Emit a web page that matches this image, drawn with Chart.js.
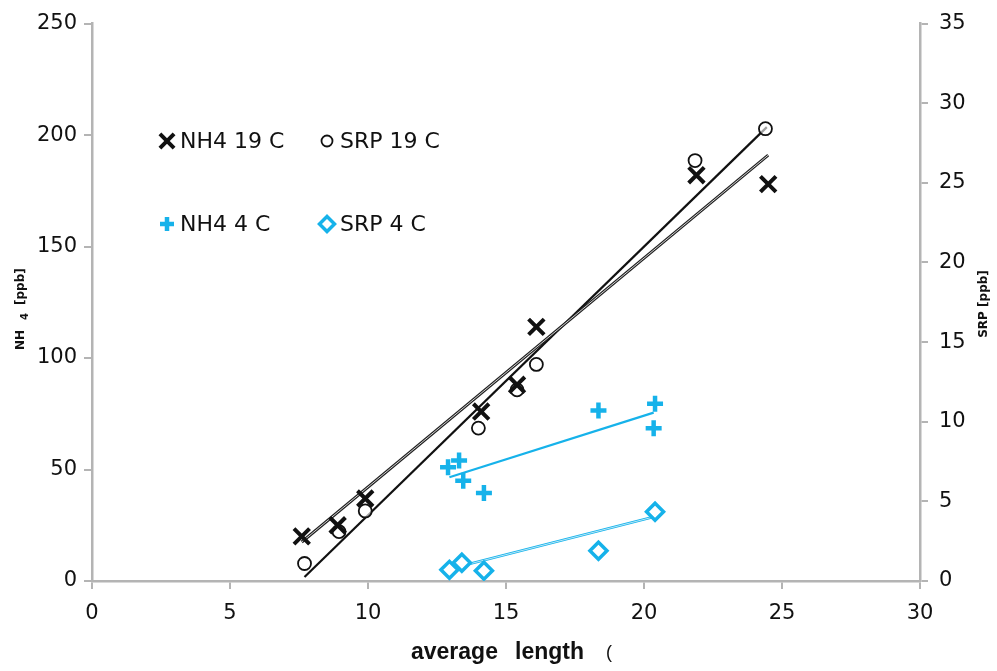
<!DOCTYPE html>
<html>
<head>
<meta charset="utf-8">
<script src="https://cdn.jsdelivr.net/npm/chart.js@4/dist/chart.umd.min.js"></script>
<style>
  html, body { margin: 0; padding: 0; background: #fff; }
  #wrap { width: 997px; height: 671px; }
</style>
</head>
<body>
<div id="wrap"><canvas id="chart"></canvas></div>
<script>
// Series
const nh4WarmX = [7.6, 8.9, 9.9, 14.1, 15.4, 16.1, 21.9, 24.5];
const nh4WarmY = [20, 25, 37, 76, 88, 114, 182, 178];
const srpWarmX = [7.7, 8.95, 9.9, 14.0, 15.4, 16.1, 21.85, 24.4];
const srpWarmY = [1.1, 3.1, 4.4, 9.6, 12.0, 13.6, 26.4, 28.4];
const nh4ColdX = [12.9, 13.3, 13.45, 14.2, 18.35, 20.4, 20.35];
const nh4ColdY = [51, 54, 45, 39.5, 76.5, 79.5, 68.5];
const srpColdX = [12.95, 13.4, 14.2, 18.35, 20.4];
const srpColdY = [0.7, 1.15, 0.65, 1.9, 4.35];

// Trend line end points
const nh4WarmTrendX = [7.6, 24.5];
const nh4WarmTrendY = [17.5, 191];
const srpWarmTrendX = [7.7, 24.45];
const srpWarmTrendY = [0.25, 28.5];
const nh4ColdTrendX = [12.95, 20.35];
const nh4ColdTrendY = [46.5, 75.5];
const srpColdTrendX = [12.95, 20.3];
const srpColdTrendY = [0.75, 4.0];

// Axis ticks
const xTicks = [0, 5, 10, 15, 20, 25, 30];
const leftTicks = [0, 50, 100, 150, 200, 250];
const rightTicks = [0, 5, 10, 15, 20, 25, 30, 35];

const CYAN = "#16b2ea";
const AXIS = "#b4b4b4";

function pts(xs, ys) {
  return xs.map((x, i) => ({ x: x, y: ys[i] }));
}

// Legend drawn inside the plot as a 2x2 block
const legendSpots = [[167, 141], [327, 141], [167, 224], [327, 224]];

const overlay = {
  id: "overlay",
  afterDraw(chart) {
    const ctx = chart.ctx;
    ctx.save();

    // legend
    chart.data.datasets.filter(d => d.legend).forEach((d, i) => {
      const [lx, ly] = legendSpots[i];
      ctx.strokeStyle = d.borderColor;
      ctx.fillStyle = d.backgroundColor;
      ctx.lineWidth = d.borderWidth;
      Chart.helpers.drawPoint(ctx, {
        pointStyle: d.pointStyle, radius: d.pointRadius - 1,
        borderWidth: d.borderWidth, rotation: 0
      }, lx, ly);
      ctx.fillStyle = "#111";
      ctx.font = "22px 'DejaVu Sans'";
      ctx.textBaseline = "middle";
      ctx.textAlign = "left";
      ctx.fillText(d.label, lx + 13, ly + 1);
    });

    // x title
    ctx.fillStyle = "#111";
    ctx.font = "bold 23px 'Liberation Sans'";
    ctx.textAlign = "left";
    ctx.textBaseline = "middle";
    ctx.fillText("average", 411, 653);
    ctx.fillText("length", 515, 653);
    ctx.font = "18px 'Liberation Sans'";
    ctx.fillText("(", 606, 653);

    // left y title
    ctx.save();
    ctx.translate(24, 350);
    ctx.rotate(-Math.PI / 2);
    ctx.font = "bold 12px 'DejaVu Sans'";
    ctx.textAlign = "left";
    ctx.textBaseline = "alphabetic";
    ctx.fillText("NH", 0, 0);
    ctx.font = "bold 10px 'DejaVu Sans'";
    ctx.fillText("4", 30, 4);
    ctx.font = "bold 12px 'DejaVu Sans'";
    ctx.fillText("[ppb]", 45, 0);
    ctx.restore();

    // right y title
    ctx.save();
    ctx.translate(987, 304);
    ctx.rotate(-Math.PI / 2);
    ctx.font = "bold 12px 'DejaVu Sans'";
    ctx.textAlign = "center";
    ctx.textBaseline = "alphabetic";
    ctx.fillText("SRP [ppb]", 0, 0);
    ctx.restore();

    ctx.restore();
  }
};

function trend(xs, ys, color, width, axis) {
  return {
    type: "line", data: pts(xs, ys), yAxisID: axis,
    borderColor: color, borderWidth: width, pointRadius: 0,
    fill: false, tension: 0
  };
}

const ctx = document.getElementById("chart").getContext("2d");

new Chart(ctx, {
  type: "scatter",
  data: {
    datasets: [
      {
        label: "NH4 19 C", legend: true, data: pts(nh4WarmX, nh4WarmY), yAxisID: "y",
        pointStyle: "crossRot", pointRadius: 11, borderWidth: 4,
        borderColor: "#111", backgroundColor: "#111"
      },
      {
        label: "SRP 19 C", legend: true, data: pts(srpWarmX, srpWarmY), yAxisID: "y2",
        pointStyle: "circle", pointRadius: 6.5, borderWidth: 1.8,
        borderColor: "#111", backgroundColor: "rgba(255,255,255,0.6)"
      },
      {
        label: "NH4 4 C", legend: true, data: pts(nh4ColdX, nh4ColdY), yAxisID: "y",
        pointStyle: "cross", pointRadius: 8, borderWidth: 4.5,
        borderColor: CYAN, backgroundColor: CYAN
      },
      {
        label: "SRP 4 C", legend: true, data: pts(srpColdX, srpColdY), yAxisID: "y2",
        pointStyle: "rectRot", pointRadius: 8.5, borderWidth: 3.5,
        borderColor: CYAN, backgroundColor: "#fff"
      },
      // trend lines (the hollow ones get a thin white core)
      trend(nh4WarmTrendX, nh4WarmTrendY, "#fff", 0.8, "y"),
      trend(nh4WarmTrendX, nh4WarmTrendY, "#222", 3, "y"),
      trend(srpWarmTrendX, srpWarmTrendY, "#111", 2.2, "y2"),
      trend(nh4ColdTrendX, nh4ColdTrendY, CYAN, 2.2, "y"),
      trend(srpColdTrendX, srpColdTrendY, "#fff", 0.7, "y2"),
      trend(srpColdTrendX, srpColdTrendY, CYAN, 2.6, "y2")
    ]
  },
  options: {
    responsive: true,
    maintainAspectRatio: false,
    animation: false,
    layout: { padding: { top: 10, left: 0, right: 0, bottom: 0 } },
    plugins: {
      legend: { display: false },
      tooltip: { enabled: false }
    },
    scales: {
      x: {
        type: "linear", min: 0, max: 30,
        afterFit: s => { s.height = 90; },
        afterBuildTicks: s => { s.ticks = xTicks.map(v => ({ value: v })); },
        grid: { drawOnChartArea: false, color: AXIS, lineWidth: 2, tickLength: 8 },
        border: { color: AXIS, width: 2.5 },
        ticks: { color: "#111", padding: 12, font: { family: "DejaVu Sans", size: 21 } }
      },
      y: {
        type: "linear", position: "left", min: 0, max: 250,
        afterFit: s => { s.width = 92; },
        afterBuildTicks: s => { s.ticks = leftTicks.map(v => ({ value: v })); },
        grid: { drawOnChartArea: false, color: AXIS, lineWidth: 2, tickLength: 8 },
        border: { color: AXIS, width: 2.5 },
        ticks: { color: "#111", padding: 7, font: { family: "DejaVu Sans", size: 21 } }
      },
      y2: {
        type: "linear", position: "right", min: 0, max: 35,
        afterFit: s => { s.width = 77; },
        afterBuildTicks: s => { s.ticks = rightTicks.map(v => ({ value: v })); },
        grid: { drawOnChartArea: false, color: AXIS, lineWidth: 2, tickLength: 8 },
        border: { color: AXIS, width: 2.5 },
        ticks: { color: "#111", padding: 11, font: { family: "DejaVu Sans", size: 21 } }
      }
    }
  },
  plugins: [overlay]
});
</script>
</body>
</html>
